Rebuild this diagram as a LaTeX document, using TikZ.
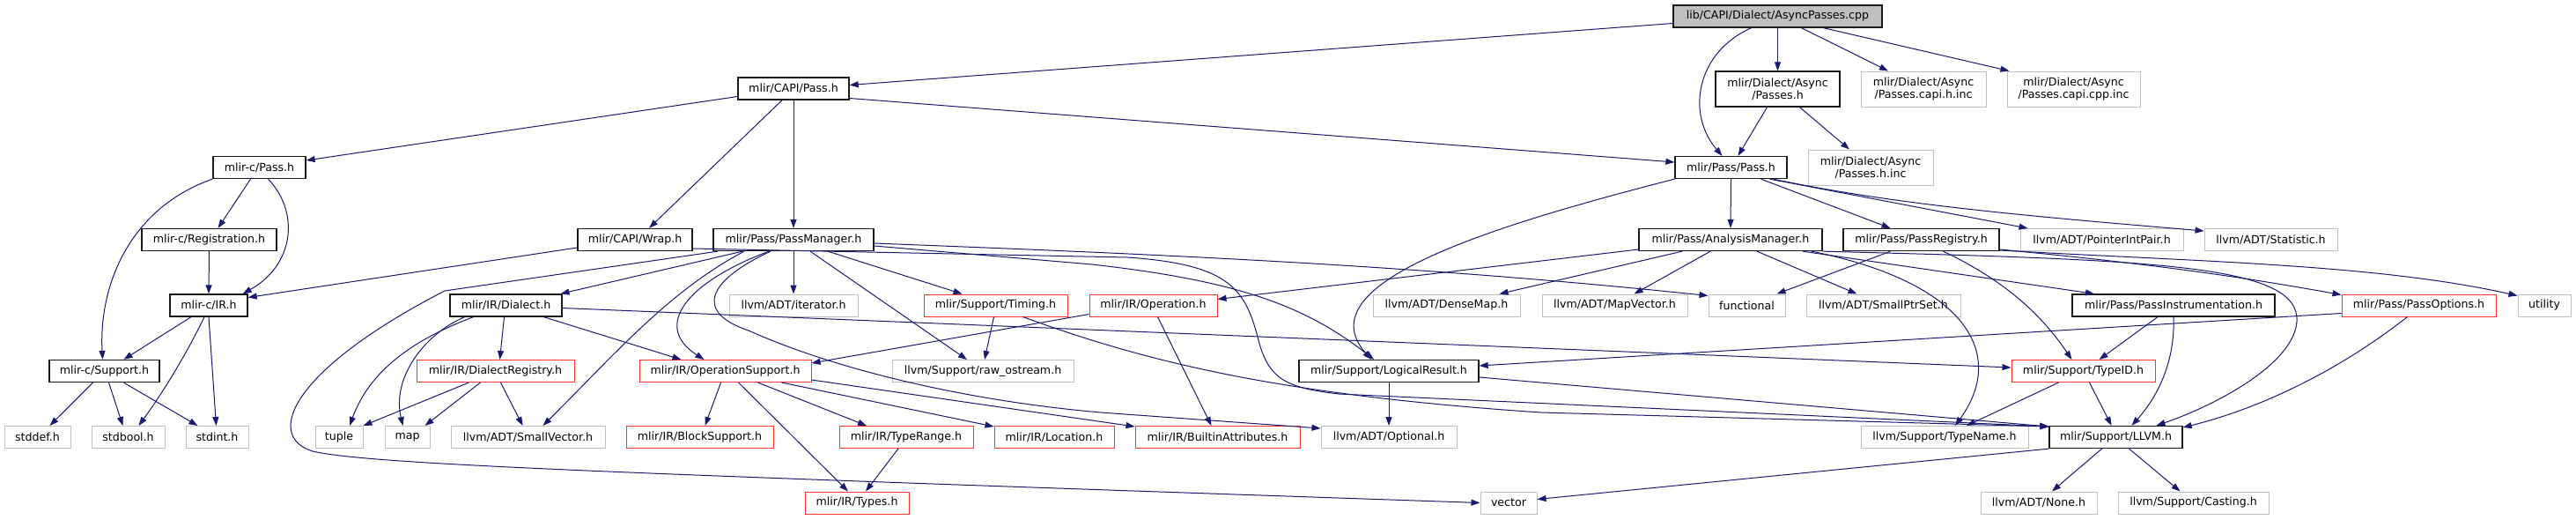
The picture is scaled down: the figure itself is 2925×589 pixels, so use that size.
\documentclass[tikz,border=0pt]{standalone}
\usepackage{fontspec}
\setmainfont{DejaVu Sans}
\usetikzlibrary{arrows.meta,calc}
\definecolor{edgec}{HTML}{191970}
\definecolor{extc}{HTML}{BFBFBF}
\definecolor{docc}{HTML}{1A1A1A}
\definecolor{redc}{HTML}{FF3030}
\definecolor{rootfill}{HTML}{BFBFBF}
\begin{document}
\begin{tikzpicture}[x=1pt,y=-1pt,
  nbox/.style={draw, fill=white, line width=1pt, inner sep=0pt, minimum height=25pt,
    font=\fontsize{12.6}{14}\selectfont, text=black},
  doc/.style={nbox, draw=docc, line width=1.3pt},
  ext/.style={nbox, draw=extc},
  trunc/.style={nbox, draw=redc},
  root/.style={nbox, draw=docc, line width=1.3pt, fill=rootfill},
  two/.style={minimum height=40pt, align=center},
  e/.style={draw=edgec, line width=1pt, -{Triangle[length=10pt,width=7pt]}}]
\fill[white] (0,0) rectangle (2925,589);
\useasboundingbox (0,0) rectangle (2925,589);

% row 0/1
\node[root, minimum width=237pt] (R) at (2018.5,18.5) {lib/CAPI/Dialect/AsyncPasses.cpp};
\node[doc, two, minimum width=141pt] (AP) at (2018.5,101) {mlir/Dialect/Async\\/Passes.h};
\node[ext, two, minimum width=142pt] (CAPIH) at (2184,101) {mlir/Dialect/Async\\/Passes.capi.h.inc};
\node[ext, two, minimum width=151pt] (CAPICPP) at (2354.5,101) {mlir/Dialect/Async\\/Passes.capi.cpp.inc};
\node[doc, minimum width=126pt] (CP) at (901,100.5) {mlir/CAPI/Pass.h};
% row 2
\node[doc, minimum width=127pt] (PP) at (1965.5,190) {mlir/Pass/Pass.h};
\node[ext, two, minimum width=142pt] (PHINC) at (2124,190) {mlir/Dialect/Async\\/Passes.h.inc};
\node[doc, minimum width=105pt] (MCP) at (294.5,190) {mlir-c/Pass.h};
% row 3
\node[doc, minimum width=153pt] (REG) at (237.5,272) {mlir-c/Registration.h};
\node[doc, minimum width=130pt] (WRAP) at (721,272) {mlir/CAPI/Wrap.h};
\node[doc, minimum width=182pt] (PM) at (901,272) {mlir/Pass/PassManager.h};
\node[doc, minimum width=208pt] (AM) at (1965,272) {mlir/Pass/AnalysisManager.h};
\node[doc, minimum width=177pt] (PREG) at (2181.5,272) {mlir/Pass/PassRegistry.h};
\node[ext, minimum width=185pt] (PIP) at (2386.5,272) {llvm/ADT/PointerIntPair.h};
\node[ext, minimum width=151pt] (STAT) at (2578.5,272) {llvm/ADT/Statistic.h};
% row 4
\node[doc, minimum width=88pt] (IR) at (237,346.5) {mlir-c/IR.h};
\node[doc, minimum width=127pt] (DIALECT) at (574.5,346.5) {mlir/IR/Dialect.h};
\node[ext, minimum width=146pt] (ITER) at (901,346.5) {llvm/ADT/iterator.h};
\node[trunc, minimum width=163pt] (TIMING) at (1130.5,346.5) {mlir/Support/Timing.h};
\node[trunc, minimum width=145pt] (OPH) at (1309.5,346.5) {mlir/IR/Operation.h};
\node[ext, minimum width=167pt] (DENSE) at (1642.5,346.5) {llvm/ADT/DenseMap.h};
\node[ext, minimum width=165pt] (MAPV) at (1833.5,346.5) {llvm/ADT/MapVector.h};
\node[ext, minimum width=87pt] (FUNC) at (1983.5,346.5) {functional};
\node[ext, minimum width=175pt] (SPS) at (2138.5,346.5) {llvm/ADT/SmallPtrSet.h};
\node[doc, minimum width=230pt] (PINST) at (2468,346.5) {mlir/Pass/PassInstrumentation.h};
\node[trunc, minimum width=175pt] (POPT) at (2746.5,346.5) {mlir/Pass/PassOptions.h};
\node[ext, minimum width=60pt] (UTIL) at (2889,346.5) {utility};
% row 5
\node[doc, minimum width=125pt] (SUP) at (118.5,421) {mlir-c/Support.h};
\node[trunc, minimum width=179pt] (DREG) at (562.5,421) {mlir/IR/DialectRegistry.h};
\node[trunc, minimum width=195pt] (OPS) at (823.5,421) {mlir/IR/OperationSupport.h};
\node[ext, minimum width=206pt] (RAW) at (1116,421) {llvm/Support/raw\_ostream.h};
\node[doc, minimum width=204pt] (LR) at (1577,421) {mlir/Support/LogicalResult.h};
\node[trunc, minimum width=163pt] (TYPEID) at (2365.5,421) {mlir/Support/TypeID.h};
% row 6
\node[ext, minimum width=75pt] (STDDEF) at (42.5,496) {stddef.h};
\node[ext, minimum width=83pt] (STDBOOL) at (145.5,496) {stdbool.h};
\node[ext, minimum width=71pt] (STDINT) at (246.5,496) {stdint.h};
\node[ext, minimum width=54pt] (TUPLE) at (385,496) {tuple};
\node[ext, minimum width=51pt] (MAP) at (462.5,496) {map};
\node[ext, minimum width=175pt] (SVEC) at (599.5,496) {llvm/ADT/SmallVector.h};
\node[trunc, minimum width=167pt] (BLOCK) at (794.5,496) {mlir/IR/BlockSupport.h};
\node[trunc, minimum width=152pt] (TRANGE) at (1029,496) {mlir/IR/TypeRange.h};
\node[trunc, minimum width=136pt] (LOC) at (1197,496) {mlir/IR/Location.h};
\node[trunc, minimum width=187pt] (BATTR) at (1382.5,496) {mlir/IR/BuiltinAttributes.h};
\node[ext, minimum width=154pt] (OPT) at (1577,496) {llvm/ADT/Optional.h};
\node[ext, minimum width=190pt] (TNAME) at (2208,496) {llvm/Support/TypeName.h};
\node[doc, minimum width=151pt] (LLVM) at (2402.5,496) {mlir/Support/LLVM.h};
% row 7
\node[trunc, minimum width=118pt] (TYPES) at (973,570.5) {mlir/IR/Types.h};
\node[ext, minimum width=64pt] (VECTOR) at (1713,570.5) {vector};
\node[ext, minimum width=132pt] (NONE) at (2315,570.5) {llvm/ADT/None.h};
\node[ext, minimum width=171pt] (CAST) at (2490.5,570.5) {llvm/Support/Casting.h};

\coordinate (LLVMin) at ($(LLVM.west)+(0,-12)$);

% root
\draw[e] ($(R.west)+(0,8)$) -- ($(CP.east)+(0,-4)$);
\draw[e] ($(R.south)+(-30,0)$) .. controls (1925,60) and (1915,130) .. ($(PP.north)+(-10,0)$);
\draw[e] (R.south) -- (AP.north);
\draw[e] ($(R.south)+(27,0)$) -- ($(CAPIH.north)+(-40,0)$);
\draw[e] ($(R.south)+(52,0)$) -- ($(CAPICPP.north)+(-73,0)$);
% async passes
\draw[e] ($(AP.south)+(-12,0)$) -- ($(PP.north)+(8,0)$);
\draw[e] ($(AP.south)+(25,0)$) -- ($(PHINC.north)+(-24,0)$);
% CAPI pass
\draw[e] ($(CP.west)+(0,9)$) -- ($(MCP.east)+(0,-8)$);
\draw[e] ($(CP.east)+(0,11)$) -- ($(PP.west)+(0,-6)$);
\draw[e] ($(CP.south)+(-13,0)$) -- ($(WRAP.north)+(16,0)$);
\draw[e] (CP.south) -- (PM.north);
% mlir-c
\draw[e] ($(MCP.south)+(-10,0)$) -- ($(REG.north)+(10,0)$);
\draw[e] ($(MCP.south)+(10,0)$) .. controls (340,240) and (335,300) .. ($(IR.north east)+(-6,0)$);
\draw[e] (MCP.south west) .. controls (150,235) and (112,320) .. ($(SUP.north)+(-2,0)$);
\draw[e] (REG.south) -- (IR.north);
\draw[e] ($(IR.south)+(-20,0)$) -- ($(SUP.north)+(22,0)$);
\draw[e] ($(IR.south)+(-5,0)$) .. controls (210,405) and (185,445) .. ($(STDBOOL.north)+(12,0)$);
\draw[e] (IR.south) -- ($(STDINT.north)+(-1,0)$);
\draw[e] ($(SUP.south)+(-13,0)$) -- ($(STDDEF.north)+(14,0)$);
\draw[e] ($(SUP.south)+(5,0)$) -- ($(STDBOOL.north)+(-6,0)$);
\draw[e] ($(SUP.south)+(22,0)$) -- ($(STDINT.north)+(-22,0)$);
% wrap
\draw[e] ($(WRAP.west)+(0,9)$) -- ($(IR.east)+(0,-9)$);
\draw[e] ($(WRAP.east)+(0,10)$) -- (1280,292) .. controls (1400,300) and (1415,330) .. (1430,390)
  .. controls (1442,430) and (1460,440) .. (1520,447) -- (LLVMin);
% pass manager
\draw[e] ($(PM.south)+(-58,0)$) -- ($(DIALECT.north)+(62,0)$);
\draw[e] ($(PM.south)+(-86,0)$) -- (505,330) .. controls (330,420) and (300,495) .. (355,512)
  .. controls (420,527) and (700,537) .. (VECTOR.west);
\draw[e] ($(PM.south)+(-56,0)$) .. controls (760,330) and (700,400) .. ($(SVEC.north)+(17,0)$);
\draw[e] ($(PM.south)+(-28,0)$) .. controls (780,320) and (740,370) .. ($(OPS.north)+(-24,0)$);
\draw[e] (PM.south) -- (ITER.north);
\draw[e] ($(PM.south)+(-26,0)$) .. controls (800,320) and (790,355) .. (850,375)
  .. controls (950,420) and (1100,455) .. (1250,468) -- ($(OPT.west)+(0,-10)$);
\draw[e] ($(PM.south)+(19,0)$) -- ($(RAW.north)+(-18,0)$);
\draw[e] ($(PM.south)+(39,0)$) -- ($(TIMING.north)+(-38,0)$);
\draw[e] ($(PM.east)+(0,4)$) .. controls (1300,288) and (1600,300) .. ($(FUNC.west)+(0,-11)$);
\draw[e] ($(PM.east)+(0,7)$) -- (1240,300) .. controls (1400,318) and (1480,345) .. ($(LR.north)+(-17,0)$);
% dialect
\draw[e] ($(DIALECT.south)+(-2,0)$) -- ($(DREG.north)+(5,0)$);
\draw[e] ($(DIALECT.south)+(43,0)$) -- ($(OPS.north)+(-50,0)$);
\draw[e] ($(DIALECT.east)+(0,3)$) -- ($(TYPEID.west)+(0,-4)$);
\draw[e] ($(DIALECT.south)+(-37,0)$) .. controls (470,385) and (420,420) .. ($(TUPLE.north)+(12,0)$);
\draw[e] ($(DIALECT.south)+(-47,0)$) .. controls (480,380) and (445,430) .. ($(MAP.north)+(-5,0)$);
\draw[e] ($(DREG.south)+(-30,0)$) -- (TUPLE.north east);
\draw[e] ($(DREG.south)+(-17,0)$) -- ($(MAP.north)+(20,0)$);
\draw[e] ($(DREG.south)+(6,0)$) -- ($(SVEC.north)+(-6,0)$);
% operation support
\draw[e] ($(OPS.south)+(-5,0)$) -- ($(BLOCK.north)+(6,0)$);
\draw[e] ($(OPS.south)+(15,0)$) -- ($(TYPES.north)+(-10,0)$);
\draw[e] ($(OPS.south)+(37,0)$) -- ($(TRANGE.north)+(-45,0)$);
\draw[e] ($(OPS.south)+(64,0)$) -- ($(LOC.west)+(0,-12)$);
\draw[e] ($(OPS.east)+(0,10)$) -- ($(BATTR.west)+(0,-12)$);
\draw[e] ($(OPH.west)+(0,10)$) -- ($(OPS.east)+(0,-9)$);
\draw[e] ($(OPH.south)+(5,0)$) -- ($(BATTR.north)+(-7,0)$);
\draw[e] ($(TIMING.south)+(-2,0)$) -- ($(RAW.north)+(2,0)$);
\draw[e] ($(TIMING.south)+(31,0)$) .. controls (1300,410) and (1450,448) .. (1750,468) -- (LLVMin);
\draw[e] ($(TRANGE.south)+(-9,0)$) -- ($(TYPES.north)+(10,0)$);
\draw[e] (LR.south) -- (OPT.north);
\draw[e] ($(LR.east)+(0,7)$) -- (LLVMin);
% pass.h
\draw[e] (PP.south) -- (AM.north);
\draw[e] ($(PP.south)+(34,0)$) -- ($(PREG.north)+(-35,0)$);
\draw[e] ($(PP.south)+(44,0)$) -- ($(PIP.north)+(-84,0)$);
\draw[e] ($(PP.south)+(48,0)$) .. controls (2150,232) and (2300,245) .. ($(STAT.west)+(0,-10)$);
\draw[e] (PP.south west) .. controls (1700,255) and (1480,320) .. ($(LR.north)+(-20,0)$);
% analysis manager
\draw[e] ($(AM.west)+(0,11)$) -- ($(OPH.east)+(0,-7)$);
\draw[e] ($(AM.south)+(-55,0)$) -- ($(DENSE.north)+(60,0)$);
\draw[e] ($(AM.south)+(-23,0)$) -- ($(MAPV.north)+(22,0)$);
\draw[e] ($(AM.south)+(30,0)$) -- ($(SPS.north)+(-30,0)$);
\draw[e] ($(AM.south)+(82,0)$) -- ($(PINST.north)+(-90,0)$);
\draw[e] ($(AM.south)+(92,0)$) .. controls (2230,320) and (2280,400) .. ($(TNAME.north)+(12,0)$);
\draw[e] (AM.south east) .. controls (2450,295) and (2612,300) .. (2608,365)
  .. controls (2604,415) and (2510,462) .. ($(LLVM.north)+(46,0)$);
% pass registry
\draw[e] ($(PREG.south)+(-35,0)$) -- ($(FUNC.north east)+(-10,0)$);
\draw[e] ($(PREG.south)+(25,0)$) .. controls (2280,320) and (2320,360) .. ($(TYPEID.north)+(-13,0)$);
\draw[e] ($(PREG.east)+(0,11)$) .. controls (2450,300) and (2550,315) .. ($(POPT.west)+(0,-12)$);
\draw[e] ($(PREG.east)+(0,12)$) .. controls (2500,297) and (2700,300) .. ($(UTIL.west)+(0,-11)$);
% instrumentation / options
\draw[e] ($(PINST.south)+(-18,0)$) -- ($(TYPEID.north)+(18,0)$);
\draw[e] (PINST.south) .. controls (2470,410) and (2450,450) .. ($(LLVM.north)+(18,0)$);
\draw[e] ($(POPT.west)+(0,9)$) -- ($(LR.east)+(0,-6)$);
\draw[e] ($(POPT.south)+(-13,0)$) .. controls (2650,425) and (2560,465) .. ($(LLVM.east)+(0,-11)$);
% typeid / llvm
\draw[e] ($(TYPEID.south)+(-28,0)$) -- ($(TNAME.north)+(25,0)$);
\draw[e] ($(TYPEID.south)+(7,0)$) -- ($(LLVM.north)+(-5,0)$);
\draw[e] ($(LLVM.south)+(-16,0)$) -- ($(NONE.north)+(15,0)$);
\draw[e] ($(LLVM.south)+(15,0)$) -- ($(CAST.north)+(-15,0)$);
\draw[e] (LLVM.south west) -- ($(VECTOR.east)+(0,-4)$);
\end{tikzpicture}
\end{document}
